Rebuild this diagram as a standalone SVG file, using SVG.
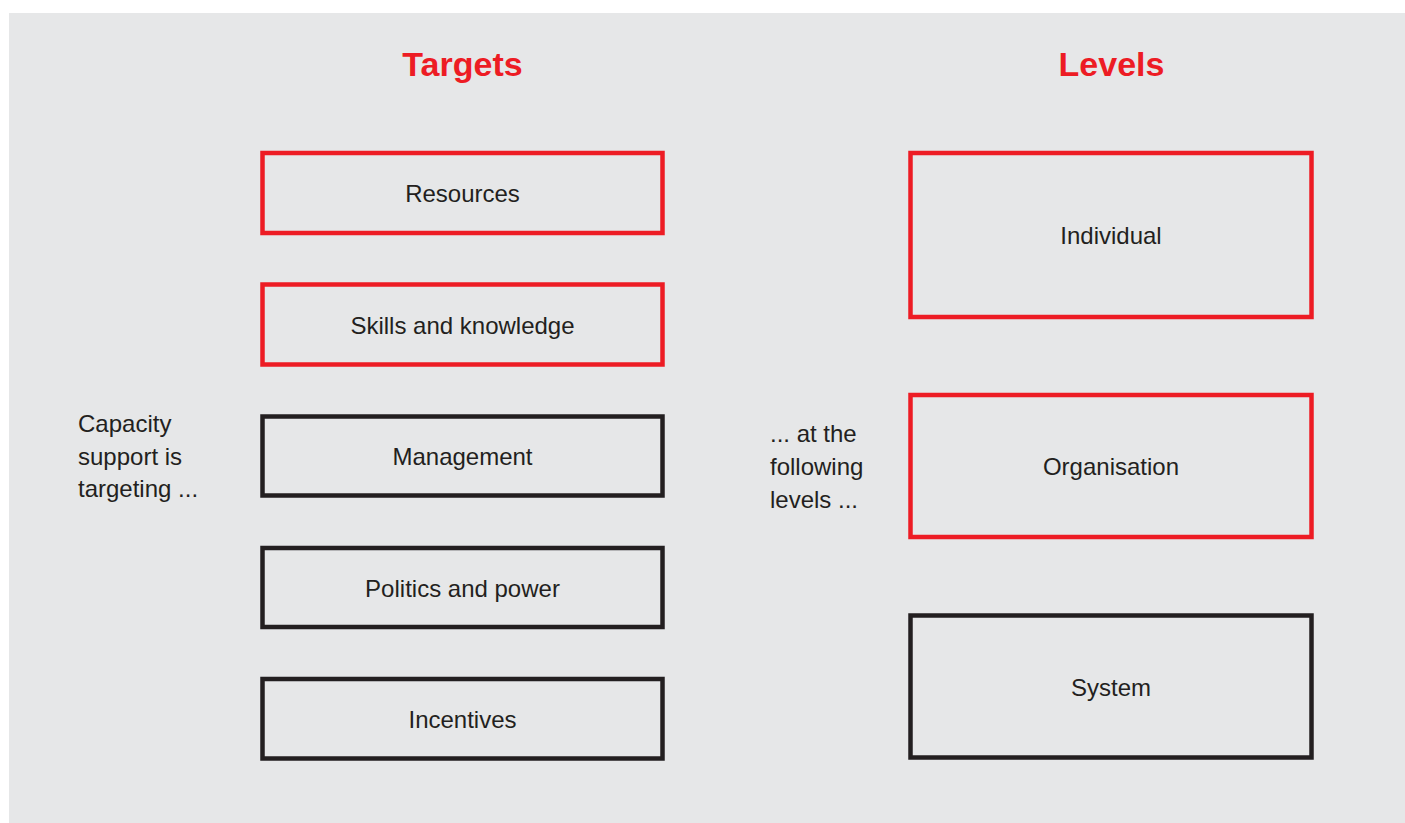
<svg xmlns="http://www.w3.org/2000/svg" width="1405" height="823" viewBox="0 0 1405 823">
  <style>
    .bg { fill: #E6E7E8; }
    .box { fill: none; stroke-width: 4.5; }
    .red { stroke: #ED1C24; }
    .blk { stroke: #231F20; }
    .lbl { font-family: "Liberation Sans", Arial, sans-serif; font-size: 24px; fill: #231F20; text-anchor: middle; }
    .side { font-family: "Liberation Sans", Arial, sans-serif; font-size: 24px; fill: #231F20; }
    .title { font-family: "Liberation Sans", Arial, sans-serif; font-size: 34px; font-weight: bold; fill: #ED1C24; text-anchor: middle; }
  </style>
  <rect class="bg" x="9" y="13" width="1396" height="810"/>

  <text class="title" x="462.5" y="76">Targets</text>
  <text class="title" x="1111.5" y="76">Levels</text>

  <g id="caption-left">
    <text class="side" x="78" y="432">Capacity</text>
    <text class="side" x="78" y="465">support is</text>
    <text class="side" x="78" y="497">targeting ...</text>
  </g>
  <g id="caption-right">
    <text class="side" x="770" y="442">... at the</text>
    <text class="side" x="770" y="475">following</text>
    <text class="side" x="770" y="508">levels ...</text>
  </g>

  <g id="resources">
    <rect class="box red" x="262.5" y="153" width="400" height="80"/>
    <text class="lbl" x="462.5" y="202">Resources</text>
  </g>
  <g id="skills">
    <rect class="box red" x="262.5" y="284.5" width="400" height="80"/>
    <text class="lbl" x="462.5" y="334">Skills and knowledge</text>
  </g>
  <g id="management">
    <rect class="box blk" x="262.5" y="416.5" width="400" height="79"/>
    <text class="lbl" x="462.5" y="465">Management</text>
  </g>
  <g id="politics">
    <rect class="box blk" x="262.5" y="548" width="400" height="79"/>
    <text class="lbl" x="462.5" y="597">Politics and power</text>
  </g>
  <g id="incentives">
    <rect class="box blk" x="262.5" y="679" width="400" height="79.5"/>
    <text class="lbl" x="462.5" y="728">Incentives</text>
  </g>

  <g id="individual">
    <rect class="box red" x="910.5" y="153" width="401" height="164"/>
    <text class="lbl" x="1111" y="244">Individual</text>
  </g>
  <g id="organisation">
    <rect class="box red" x="910.5" y="395" width="401" height="142"/>
    <text class="lbl" x="1111" y="475">Organisation</text>
  </g>
  <g id="system">
    <rect class="box blk" x="910.5" y="615.5" width="401" height="142"/>
    <text class="lbl" x="1111" y="696">System</text>
  </g>

  <g id="connectors"/>
</svg>
